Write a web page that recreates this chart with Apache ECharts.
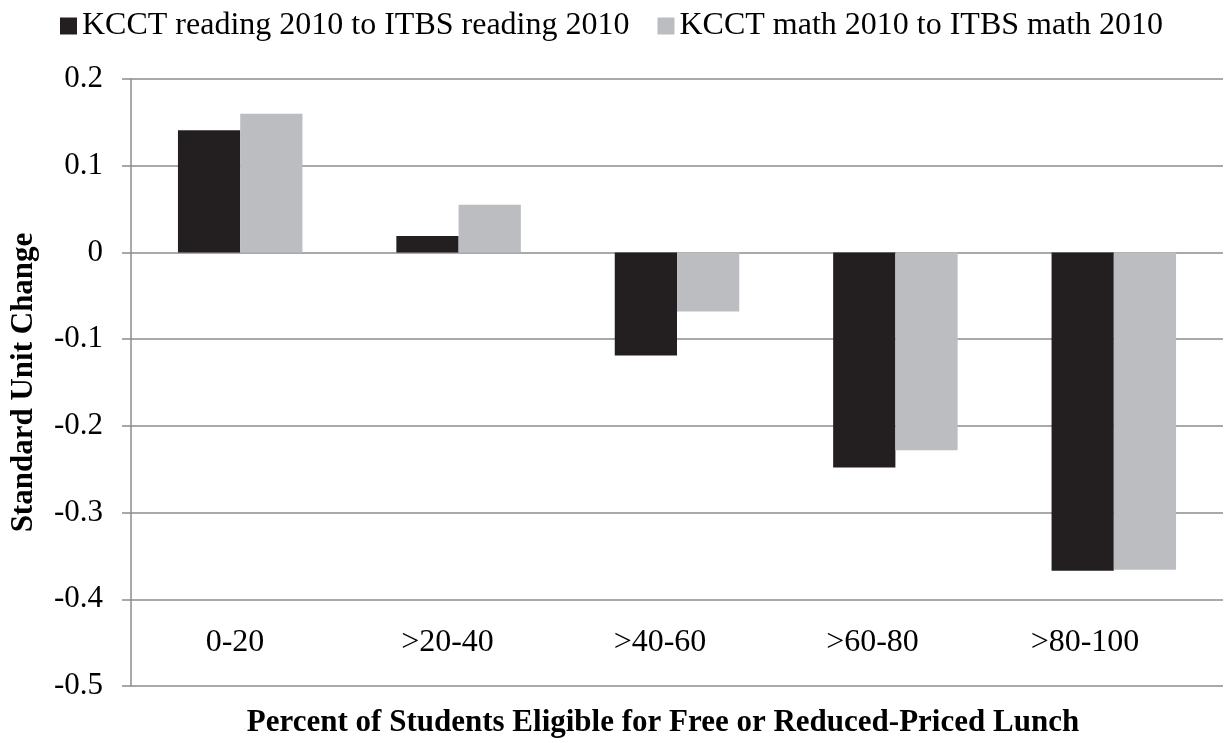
<!DOCTYPE html>
<html>
<head>
<meta charset="utf-8">
<script src="https://cdn.jsdelivr.net/npm/echarts@6/dist/echarts.min.js"></script>
<style>
  html, body { margin: 0; padding: 0; background: #fff; }
  #chart { width: 1224px; height: 743px; }
</style>
</head>
<body>
<div id="chart"></div>
<script>
var categories = ['0-20', '>20-40', '>40-60', '>60-80', '>80-100'];
var readingValues = [0.141, 0.019, -0.119, -0.248, -0.367];
var mathValues = [0.160, 0.055, -0.068, -0.228, -0.366];
var seriesNames = ['KCCT reading 2010 to ITBS reading 2010', 'KCCT math 2010 to ITBS math 2010'];

var font = '"Liberation Serif", "Times New Roman", serif';
var gridColor = '#8c8c8c';

var myChart = echarts.init(document.getElementById('chart'));
var option = {
  backgroundColor: '#fff',
  textStyle: { fontFamily: font, color: '#000' },
  legend: {
    left: 55,
    top: 5,
    itemWidth: 17,
    itemHeight: 17,
    itemGap: 28,
    icon: 'rect',
    textStyle: { fontFamily: font, fontSize: 32, color: '#000' },
    data: seriesNames
  },
  grid: [
    { left: 127, right: 1, top: 79, bottom: 57 },
    // labels only; Excel spaced them a bit tighter than the bars
    { left: 128.75, width: 1062.5, top: 79, bottom: 57 }
  ],
  xAxis: [
    {
      type: 'category',
      gridIndex: 0,
      data: categories,
      axisLine: { show: false },
      axisTick: { show: false },
      axisLabel: { show: false }
    },
    {
      type: 'category',
      gridIndex: 1,
      data: categories,
      axisLine: { show: false },
      axisTick: { show: false },
      axisLabel: {
        fontFamily: font,
        fontSize: 32,
        color: '#000',
        verticalAlign: 'middle',
        margin: -43
      }
    }
  ],
  yAxis: [
    {
      type: 'value',
      gridIndex: 0,
      min: -0.5,
      max: 0.2,
      interval: 0.1,
      name: 'Standard Unit Change',
      nameLocation: 'middle',
      nameGap: 92,
      nameTextStyle: { fontFamily: font, fontSize: 31, fontWeight: 'bold', color: '#000' },
      axisLine: { show: true, lineStyle: { color: gridColor, width: 1.5 } },
      axisTick: { show: true, inside: false, length: 9, lineStyle: { color: gridColor, width: 1.5 } },
      splitLine: { show: true, lineStyle: { color: gridColor, width: 1.5 } },
      axisLabel: {
        fontFamily: font,
        fontSize: 31,
        color: '#000',
        margin: 28,
        formatter: function (v) { return String(+v.toFixed(1)); }
      }
    },
    { type: 'value', gridIndex: 1, show: false, min: -0.5, max: 0.2 }
  ],
  graphic: [
    {
      type: 'text',
      x: 663,
      y: 723,
      style: {
        text: 'Percent of Students Eligible for Free or Reduced-Priced Lunch',
        font: 'bold 31px ' + font,
        fill: '#000',
        textAlign: 'center',
        textVerticalAlign: 'middle'
      }
    }
  ],
  series: [
    {
      name: seriesNames[0],
      type: 'bar',
      xAxisIndex: 0,
      yAxisIndex: 0,
      data: readingValues,
      barGap: 0,
      barCategoryGap: '43%',
      itemStyle: { color: '#231f20' }
    },
    {
      name: seriesNames[1],
      type: 'bar',
      xAxisIndex: 0,
      yAxisIndex: 0,
      data: mathValues,
      barGap: 0,
      barCategoryGap: '43%',
      itemStyle: { color: '#bcbdc0' }
    }
  ]
};
myChart.setOption(option);
</script>
</body>
</html>
